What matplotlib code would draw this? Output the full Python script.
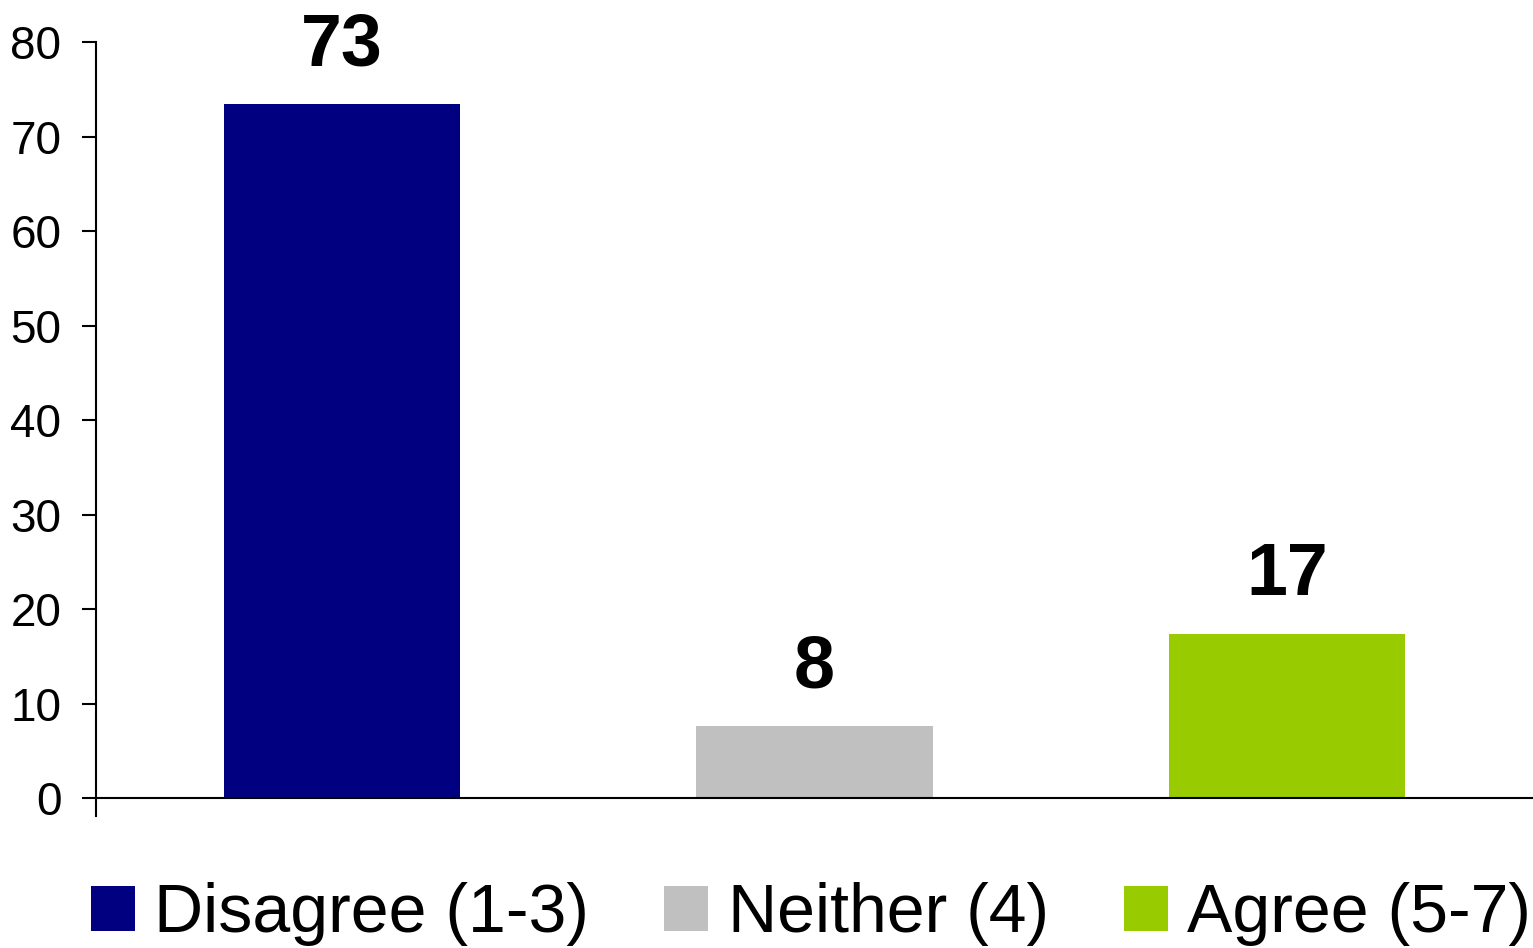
import matplotlib
matplotlib.use("Agg")
import matplotlib.pyplot as plt
from matplotlib.patches import Patch

# data
categorias = ["Disagree (1-3)", "Neither (4)", "Agree (5-7)"]
valores = [73.4, 7.6, 17.4]
etiquetas = ["73", "8", "17"]
colores = ["#000080", "#C0C0C0", "#99CC00"]
yticks = [0, 10, 20, 30, 40, 50, 60, 70, 80]

plt.rcParams['font.family'] = ['Liberation Sans', 'DejaVu Sans']

fig = plt.figure(figsize=(15.33, 9.48), dpi=100)
ax = fig.add_axes([96/1533, 1 - 816/948, 1 - 96/1533, (816 - 42)/948])

x = list(range(len(valores)))
ax.bar(x, valores, width=0.5, color=colores, zorder=2)

# etiquetas sobre las barras
for xi, v, t in zip(x, valores, etiquetas):
    ax.annotate(t, (xi, v), xytext=(0, 28), textcoords="offset points",
                ha="center", va="baseline", fontsize=53, fontweight="bold")

ax.set_xlim(-0.52, 2.52)
ax.set_ylim(-1.9, 80)
ax.set_yticks(yticks)
ax.tick_params(axis="y", labelsize=33, length=10, width=1.5, pad=15, direction="out")
ax.set_xticks([])
ax.axhline(0, color="black", lw=1.5, zorder=3)
for s in ["top", "right", "bottom"]:
    ax.spines[s].set_visible(False)
ax.spines["left"].set_linewidth(1.5)

handles = [Patch(facecolor=c, label=l) for c, l in zip(colores, categorias)]
fig.legend(handles=handles, loc="lower center", bbox_to_anchor=(0.529, -0.027), ncol=3,
           frameon=False, fontsize=49, handlelength=0.65, handleheight=0.65,
           handletextpad=0.28, columnspacing=1.1, borderaxespad=0)

fig.savefig("out.png", dpi=100)
